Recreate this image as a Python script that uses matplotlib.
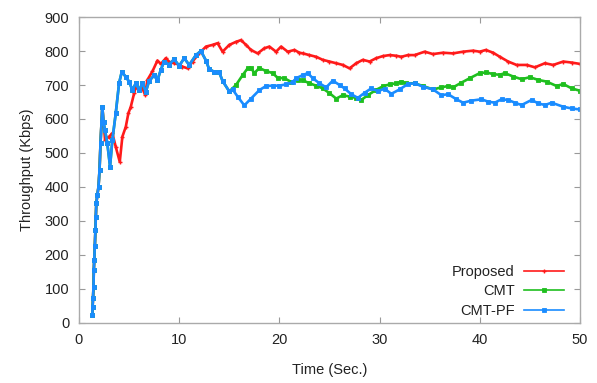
import matplotlib
matplotlib.use("Agg")
import matplotlib.pyplot as plt

plt.rcParams['font.family'] = ['Liberation Sans', 'DejaVu Sans']

# CMT-PF (blue)
t_pf = [1.33, 1.36, 1.40, 1.45, 1.48, 1.52, 1.58, 1.64, 1.68, 1.73, 1.83, 1.95, 2.05, 2.15, 2.25, 2.33,
        2.45, 2.60, 2.83, 3.10, 3.33, 3.67, 4.00, 4.27, 4.67, 5.00, 5.33, 5.67, 6.00, 6.33, 6.67,
        7.00, 7.50, 7.83, 8.17, 8.50, 9.00, 9.50, 10.00, 10.50, 11.00, 11.67, 12.17, 12.67, 13.00,
        13.50, 14.00, 14.33, 15.00, 15.33, 15.83, 16.50, 17.17, 18.00, 18.67, 19.33, 20.00, 20.67,
        21.33, 21.67, 22.33, 22.83, 23.33, 24.00, 24.67, 25.33, 26.00, 26.50, 27.17, 27.83, 28.50,
        29.17, 29.83, 30.50, 31.17, 32.00, 32.83, 33.50, 34.33, 35.33, 36.17, 36.83, 37.67, 38.33,
        39.17, 40.17, 40.83, 41.50, 42.17, 42.83, 43.50, 44.17, 45.17, 45.83, 46.50, 47.17, 48.33,
        49.17, 50.00]
v_pf = [23, 48, 73, 107, 156, 185, 225, 273, 313, 352, 376, 401, 450, 530, 590, 636,
        590, 567, 528, 460, 538, 617, 705, 739, 724, 710, 685, 705, 685, 705, 680,
        712, 728, 714, 745, 769, 760, 776, 756, 779, 759, 788, 800, 772, 746,
        739, 737, 712, 681, 687, 666, 640, 660, 685, 697, 698, 698, 702,
        708, 720, 729, 735, 720, 705, 693, 713, 700, 690, 673, 662, 677,
        690, 682, 689, 674, 687, 703, 705, 695, 687, 670, 673, 658, 648,
        654, 658, 651, 648, 658, 656, 648, 641, 656, 646, 641, 648, 636,
        631, 628]

# CMT (green): follows CMT-PF until ~15 s
t_cmt_own = [15.67, 16.33, 16.83, 17.17, 17.50, 18.00, 18.67, 19.33, 19.83, 20.50, 21.17, 21.83,
             22.33, 23.00, 23.67, 24.33, 25.00, 25.67, 26.33, 27.00, 27.67, 28.17, 28.83, 29.67,
             30.33, 31.00, 31.67, 32.17, 32.67, 33.50, 34.33, 35.33, 36.17, 36.83, 37.33, 38.17,
             39.00, 40.00, 40.67, 41.33, 42.00, 42.50, 43.33, 44.17, 45.00, 45.83, 46.67, 47.67,
             48.33, 49.17, 50.00]
v_cmt_own = [700, 729, 749, 750, 735, 750, 741, 735, 721, 720, 709, 716,
             714, 705, 698, 690, 676, 660, 670, 666, 662, 656, 670, 686,
             696, 702, 705, 710, 705, 705, 697, 687, 693, 697, 693, 707,
             720, 735, 737, 732, 730, 735, 725, 717, 723, 715, 710, 697,
             703, 690, 683]

# Proposed (red): follows CMT-PF until ~2.3 s
t_prop_own = [2.60, 3.00, 3.33, 3.67, 4.07, 4.33, 4.67, 4.93, 5.17, 5.50, 5.67, 6.00, 6.33, 6.60,
              6.83, 7.33, 7.83, 8.17, 8.67, 9.00, 9.50, 10.00, 10.33, 10.83, 11.33, 12.00, 12.67,
              13.33, 13.83, 14.33, 15.00, 15.67, 16.17, 16.67, 17.17, 17.83, 18.50, 19.00, 19.67,
              20.17, 20.83, 21.50, 22.00, 22.33, 23.00, 23.67, 24.33, 25.00, 25.67, 26.33, 27.00,
              27.67, 28.33, 29.00, 29.67, 30.33, 31.00, 31.67, 32.17, 32.83, 33.50, 34.50, 35.33,
              36.33, 37.33, 38.33, 39.33, 40.00, 40.60, 41.33, 42.00, 42.83, 43.67, 44.67, 45.50,
              46.50, 47.33, 48.33, 49.17, 50.00]
v_prop_own = [538, 548, 558, 518, 474, 548, 577, 617, 636, 675, 695, 685, 690, 671,
              715, 740, 772, 762, 779, 768, 764, 760, 754, 749, 769, 793, 813,
              818, 823, 798, 818, 827, 832, 818, 803, 793, 808, 813, 798,
              813, 798, 803, 795, 793, 788, 783, 774, 769, 764, 759, 749,
              764, 774, 769, 779, 785, 788, 786, 783, 788, 788, 798, 791,
              795, 793, 798, 801, 798, 803, 795, 783, 769, 759, 759, 752,
              764, 759, 769, 766, 762]

n_prop_shared = t_pf.index(2.33) + 1
t_prop = t_pf[:n_prop_shared] + t_prop_own
v_prop = v_pf[:n_prop_shared] + v_prop_own
n_cmt_shared = t_pf.index(15.00) + 1
t_cmt = t_pf[:n_cmt_shared] + t_cmt_own
v_cmt = v_pf[:n_cmt_shared] + v_cmt_own

labels = ["Proposed", "CMT", "CMT-PF"]
colors = ["#ff1a1a", "#1fbf1f", "#1a8cff"]

fig = plt.figure(figsize=(5.97, 3.83), dpi=100)
ax = fig.add_axes([0.1323, 0.1567, 0.8392, 0.7989])

ax.plot(t_prop, v_prop, color=colors[0], lw=1.9, marker='+', ms=3.5, mew=1.0, label=labels[0])
ax.plot(t_cmt, v_cmt, color=colors[1], lw=1.9, marker='s', ms=2.2, mew=0.6, label=labels[1])
ax.plot(t_pf, v_pf, color=colors[2], lw=1.9, marker='s', ms=2.2, mew=0.6, label=labels[2])

ax.set_xlim(0, 50)
ax.set_ylim(0, 900)
ax.set_xticks([0, 10, 20, 30, 40, 50])
ax.set_yticks(range(0, 901, 100))
ax.tick_params(direction='in', top=True, right=True, length=4, width=0.8,
               colors='#999999', labelcolor='#222222', labelsize=10.5, pad=7)
for s in ax.spines.values():
    s.set_color('#aaaaaa')
    s.set_linewidth(1.0)

ax.set_xlabel("Time (Sec.)", fontsize=10.5, color='#222222', labelpad=12)
ax.set_ylabel("Throughput (Kbps)", fontsize=10.5, color='#222222', labelpad=8)

leg = ax.legend(loc='lower right', bbox_to_anchor=(0.985, -0.01), frameon=False,
                markerfirst=False, fontsize=10.5, handlelength=2.8, labelspacing=0.38,
                borderaxespad=0.15, handletextpad=0.6)
for line in leg.get_lines():
    line.set_linewidth(1.2)
for t in leg.get_texts():
    t.set_ha('right')
    t.set_color('#222222')

fig.savefig("out.png", dpi=100)
